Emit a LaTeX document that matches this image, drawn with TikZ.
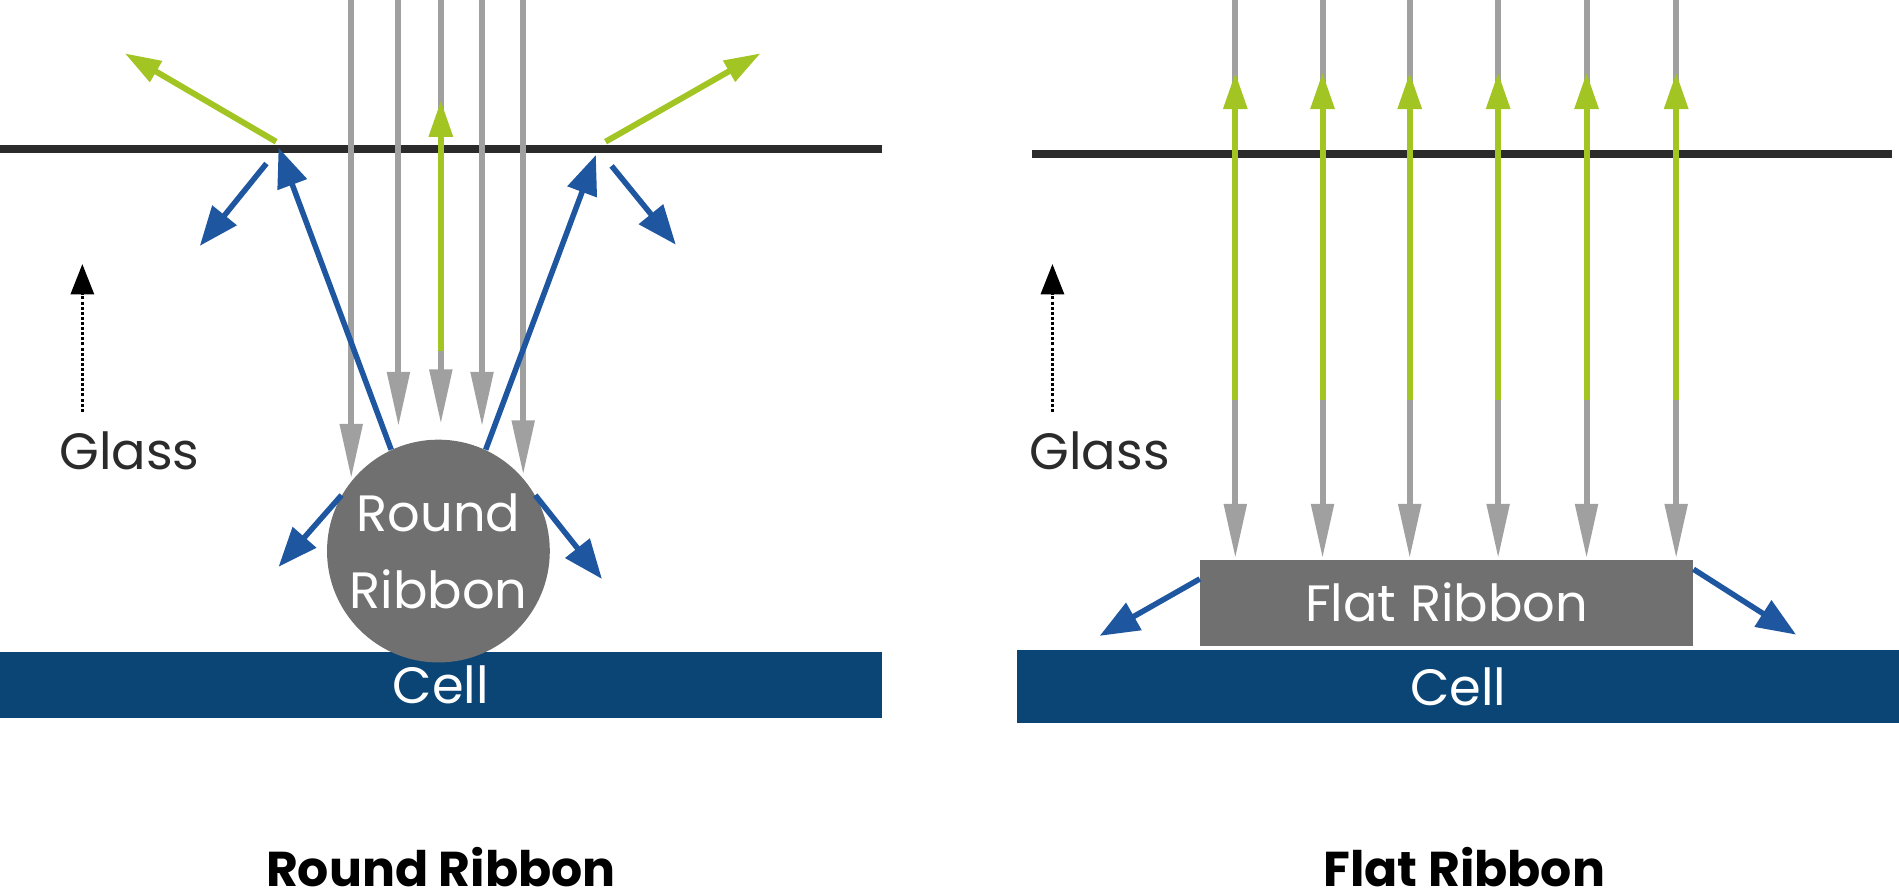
\documentclass[tikz,border=0pt]{standalone}
\usepackage{fontspec}
\setmainfont{Poppins}
\usetikzlibrary{positioning, arrows.meta}
\definecolor{raygray}{HTML}{A0A0A0}
\definecolor{raygreen}{HTML}{A2C523}
\definecolor{rayblue}{HTML}{1F56A0}
\definecolor{glassdark}{HTML}{2B2B2B}
\definecolor{cellblue}{HTML}{0A4576}
\definecolor{ribbongray}{HTML}{707070}

\begin{document}
\begin{tikzpicture}[x=0.02cm, y=-0.02cm,
        glass line/.style={glassdark, line width=4pt},
        cell box/.style={fill=cellblue, draw=none, text=white, font=\fontsize{24}{28}\selectfont},
        ribbon/.style={fill=ribbongray, draw=none, text=white, font=\fontsize{24}{28}\selectfont},
        gray ray/.style={raygray, line width=2.8pt, -{Triangle[length=0.9cm, width=0.36cm]}},
        green ray/.style={raygreen, line width=2.8pt, -{Triangle[length=0.6cm, width=0.38cm]}},
        blue ray/.style={rayblue, line width=2.6pt, -{Triangle[length=0.65cm, width=0.5cm]}},
        glass mark/.style={black, densely dotted, line width=1.4pt, -{Triangle[length=0.5cm, width=0.38cm]}},
        label/.style={font=\fontsize{24}{28}\selectfont, text=glassdark},
        title/.style={font=\bfseries\fontsize{23}{28}\selectfont, text=black}
    ]
    \useasboundingbox (0,0) rectangle (1568,735);

    % Left panel: round ribbon
    \node[cell box, minimum width=14.56cm, minimum height=1.1cm] (cellL) at (364,565.5) {Cell};
    \draw[glass line] (0,123) coordinate (glassLa) -- (728,123) coordinate (glassLb);
    \foreach \x/\e in {290/395, 329/352, 364/350, 398/352, 432/392}
        \draw[gray ray] (\x,0) -- (\x,\e);
    \node[ribbon, circle, minimum size=3.68cm, align=center, inner sep=0pt] (round) at (362,455) {\raisebox{6pt}{Round}\\[2pt]Ribbon};
    \draw[green ray] (364,290) coordinate (g0) -- (364,83) coordinate (g1);
    \draw[green ray] (228,117) coordinate (hitL) -- (103,44);
    \draw[green ray] (500,117) coordinate (hitR) -- (628,44);
    \draw[blue ray] (round.115) -- (230,122);
    \draw[blue ray] (round.65) -- (492,128);
    \draw[blue ray] (220,135) -- (165,203);
    \draw[blue ray] (505,137) -- (558,202);
    \draw[blue ray] (round.150) -- (230,468);
    \draw[blue ray] (round.30) -- (497,478);
    \draw[glass mark] (68,340) -- (68,218);
    \node[label] (glassL) at (107,372) {Glass};
    \node[title] (titleL) at (364,716) {Round Ribbon};

    % Right panel: flat ribbon
    \node[cell box, minimum width=14.56cm, minimum height=1.2cm] (cellR) at (1204,567) {Cell};
    \draw[glass line] (852,127) -- (1562,127);
    \node[ribbon, minimum width=8.14cm, minimum height=1.42cm] (flat) at (1194.5,497.5) {Flat Ribbon};
    \foreach \x in {1020, 1092, 1164, 1237, 1310, 1384} {
        \draw[gray ray] (\x,0) -- (\x,461);
        \draw[green ray] (\x,330) -- (\x,60);
    }
    \draw[blue ray] (flat.west |- 0,478) -- (908,525);
    \draw[blue ray] (flat.east |- 0,470) -- (1483,524);
    \draw[glass mark] (869,340) -- (869,218);
    \node[label] (glassR) at (908,372) {Glass};
    \node[title] (titleR) at (1209,716) {Flat Ribbon};

\end{tikzpicture}
\end{document}
